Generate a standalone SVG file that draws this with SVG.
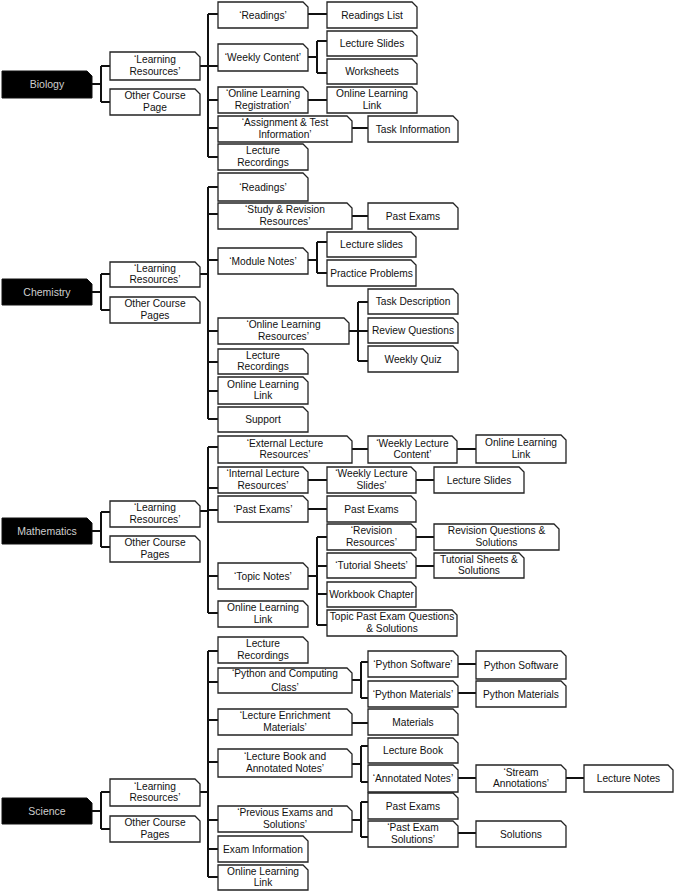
<svg xmlns="http://www.w3.org/2000/svg" width="676" height="893" viewBox="0 0 676 893">
<style>
.n{fill:#fff;stroke:#222;stroke-width:1.3;stroke-linejoin:miter}
.r{fill:#000;stroke:#111;stroke-width:1}
.t{font-family:"Liberation Sans",Arial,sans-serif;font-size:10.2px;fill:#111;text-anchor:middle}
.rt{font-family:"Liberation Sans",Arial,sans-serif;font-size:10.5px;fill:#cfcfcf;text-anchor:middle}
.c{fill:none;stroke:#111;stroke-width:2}
</style>
<rect width="676" height="893" fill="#fff"/>
<g id="connectors" class="c">
<path d="M92,84H101M101,66V102M101,66H110M101,102H110M200,66H218M208,14V157M208,14H218M208,100H218M208,128H218M208,157H218M308,14H327M308,57H317M317,41V73M317,41H327M317,73H327M308,100H327M352,128H368"/>
<path d="M92,292H101M101,274V310M101,274H110M101,310H110M200,274H208M208,187V419M208,187H218M208,214H218M208,260H218M208,331H218M208,362H218M208,391H218M208,419H218M352,216H368M308,260H317M317,242V273M317,242H327M317,273H327M349,331H358M358,302V361M358,302H368M358,331H368M358,361H368"/>
<path d="M92,531H101M101,512V547M101,512H110M101,547H110M200,511H208M208,447V613M208,447H218M208,488H218M208,510H218M208,576H218M208,613H218M352,449H368M457,449H476M308,480H327M416,480H434M308,509H327M308,576H317M317,537V625M317,537H327M317,566H327M317,594H327M317,625H327M416,537H434M416,566H434"/>
<path d="M92,811H101M101,792V829M101,792H110M101,829H110M200,792H208M208,651V877M208,651H218M208,682H218M208,720H218M208,762H218M208,820H218M208,849H218M208,877H218M352,680H361M361,662V698M361,662H368M361,698H368M458,664H476M458,693H476M352,723H368M352,764H361M361,746V782M361,746H368M361,782H368M458,778H476M566,778H584M352,820H361M361,802V837M361,802H368M361,837H368M458,833H476"/>
</g>

<g id="bio-root"><path class="r" d="M2,71H87L92,76V98H2Z"/><text class="rt" x="47" y="88">Biology</text></g>
<g id="bio-lr"><path class="n" d="M110,52H195L200,57V80H110Z"/><text class="t" x="155" y="63.4">‘Learning</text><text class="t" x="155" y="74.9">Resources’</text></g>
<g id="bio-ocp"><path class="n" d="M110,89H195L200,94V115H110Z"/><text class="t" x="155" y="99.4">Other Course</text><text class="t" x="155" y="110.9">Page</text></g>
<g id="bio-readings"><path class="n" d="M218,2H303L308,7V28H218Z"/><text class="t" x="263" y="18.6">‘Readings’</text></g>
<g id="bio-weekly"><path class="n" d="M218,44H303L308,49V71H218Z"/><text class="t" x="263" y="61.1">‘Weekly Content’</text></g>
<g id="bio-olr"><path class="n" d="M218,87H303L308,92V113H218Z"/><text class="t" x="263" y="97.4">‘Online Learning</text><text class="t" x="263" y="108.9">Registration’</text></g>
<g id="bio-assign"><path class="n" d="M218,116H347L352,121V142H218Z"/><text class="t" x="285" y="126.4">‘Assignment &amp; Test</text><text class="t" x="285" y="137.9">Information’</text></g>
<g id="bio-lrec"><path class="n" d="M218,144H303L308,149V170H218Z"/><text class="t" x="263" y="154.4">Lecture</text><text class="t" x="263" y="165.9">Recordings</text></g>
<g id="bio-rlist"><path class="n" d="M327,2H412L417,7V28H327Z"/><text class="t" x="372" y="18.6">Readings List</text></g>
<g id="bio-lslides"><path class="n" d="M327,31H412L417,36V56H327Z"/><text class="t" x="372" y="47.1">Lecture Slides</text></g>
<g id="bio-worksheets"><path class="n" d="M327,59H412L417,64V84H327Z"/><text class="t" x="372" y="75.1">Worksheets</text></g>
<g id="bio-oll"><path class="n" d="M327,87H412L417,92V113H327Z"/><text class="t" x="372" y="97.4">Online Learning</text><text class="t" x="372" y="108.9">Link</text></g>
<g id="bio-task"><path class="n" d="M368,116H453L458,121V142H368Z"/><text class="t" x="413" y="132.6">Task Information</text></g>

<g id="chem-root"><path class="r" d="M2,279H87L92,284V305H2Z"/><text class="rt" x="47" y="295.6">Chemistry</text></g>
<g id="chem-lr"><path class="n" d="M110,262H195L200,267V287H110Z"/><text class="t" x="155" y="271.9">‘Learning</text><text class="t" x="155" y="283.4">Resources’</text></g>
<g id="chem-ocp"><path class="n" d="M110,297H195L200,302V323H110Z"/><text class="t" x="155" y="307.4">Other Course</text><text class="t" x="155" y="318.9">Pages</text></g>
<g id="chem-readings"><path class="n" d="M218,173H303L308,178V201H218Z"/><text class="t" x="263" y="190.6">‘Readings’</text></g>
<g id="chem-study"><path class="n" d="M218,203H347L352,208V229H218Z"/><text class="t" x="285" y="213.4">‘Study &amp; Revision</text><text class="t" x="285" y="224.9">Resources’</text></g>
<g id="chem-module"><path class="n" d="M218,248H303L308,253V274H218Z"/><text class="t" x="263" y="264.6">‘Module Notes’</text></g>
<g id="chem-olres"><path class="n" d="M218,318H344L349,323V344H218Z"/><text class="t" x="283.5" y="328.4">‘Online Learning</text><text class="t" x="283.5" y="339.9">Resources’</text></g>
<g id="chem-lrec"><path class="n" d="M218,349H303L308,354V374H218Z"/><text class="t" x="263" y="358.9">Lecture</text><text class="t" x="263" y="370.4">Recordings</text></g>
<g id="chem-oll"><path class="n" d="M218,377H303L308,382V404H218Z"/><text class="t" x="263" y="387.9">Online Learning</text><text class="t" x="263" y="399.4">Link</text></g>
<g id="chem-support"><path class="n" d="M218,407H303L308,412V432H218Z"/><text class="t" x="263" y="423.1">Support</text></g>
<g id="chem-pastexams"><path class="n" d="M368,203H453L458,208V229H368Z"/><text class="t" x="413" y="219.6">Past Exams</text></g>
<g id="chem-lslides"><path class="n" d="M327,232H411L416,237V257H327Z"/><text class="t" x="371.5" y="248.1">Lecture slides</text></g>
<g id="chem-practice"><path class="n" d="M327,260H411L416,265V286H327Z"/><text class="t" x="371.5" y="276.6">Practice Problems</text></g>
<g id="chem-taskdesc"><path class="n" d="M368,289H453L458,294V314H368Z"/><text class="t" x="413" y="305.1">Task Description</text></g>
<g id="chem-review"><path class="n" d="M368,318H453L458,323V343H368Z"/><text class="t" x="413" y="334.1">Review Questions</text></g>
<g id="chem-quiz"><path class="n" d="M368,346H453L458,351V372H368Z"/><text class="t" x="413" y="362.6">Weekly Quiz</text></g>

<g id="math-root"><path class="r" d="M2,518H87L92,523V544H2Z"/><text class="rt" x="47" y="534.6">Mathematics</text></g>
<g id="math-lr"><path class="n" d="M110,501H195L200,506V527H110Z"/><text class="t" x="155" y="511.4">‘Learning</text><text class="t" x="155" y="522.9">Resources’</text></g>
<g id="math-ocp"><path class="n" d="M110,536H195L200,541V562H110Z"/><text class="t" x="155" y="546.4">Other Course</text><text class="t" x="155" y="557.9">Pages</text></g>
<g id="math-ext"><path class="n" d="M218,436H347L352,441V463H218Z"/><text class="t" x="285" y="446.9">‘External Lecture</text><text class="t" x="285" y="458.4">Resources’</text></g>
<g id="math-int"><path class="n" d="M218,467H303L308,472V493H218Z"/><text class="t" x="263" y="477.4">‘Internal Lecture</text><text class="t" x="263" y="488.9">Resources’</text></g>
<g id="math-past"><path class="n" d="M218,496H303L308,501V522H218Z"/><text class="t" x="263" y="512.6">‘Past Exams’</text></g>
<g id="math-topic"><path class="n" d="M218,563H303L308,568V589H218Z"/><text class="t" x="263" y="579.6">‘Topic Notes’</text></g>
<g id="math-oll"><path class="n" d="M218,601H303L308,606V627H218Z"/><text class="t" x="263" y="611.4">Online Learning</text><text class="t" x="263" y="622.9">Link</text></g>
<g id="math-wlc"><path class="n" d="M368,436H452L457,441V463H368Z"/><text class="t" x="412.5" y="446.9">‘Weekly Lecture</text><text class="t" x="412.5" y="458.4">Content’</text></g>
<g id="math-oll2"><path class="n" d="M476,435H561L566,440V463H476Z"/><text class="t" x="521" y="446.4">Online Learning</text><text class="t" x="521" y="457.9">Link</text></g>
<g id="math-wls"><path class="n" d="M327,467H411L416,472V493H327Z"/><text class="t" x="371.5" y="477.4">‘Weekly Lecture</text><text class="t" x="371.5" y="488.9">Slides’</text></g>
<g id="math-ls"><path class="n" d="M434,467H519L524,472V493H434Z"/><text class="t" x="479" y="483.6">Lecture Slides</text></g>
<g id="math-pastexams"><path class="n" d="M327,496H411L416,501V522H327Z"/><text class="t" x="371.5" y="512.6">Past Exams</text></g>
<g id="math-revres"><path class="n" d="M327,524H411L416,529V550H327Z"/><text class="t" x="371.5" y="534.4">‘Revision</text><text class="t" x="371.5" y="545.9">Resources’</text></g>
<g id="math-revq"><path class="n" d="M434,524H554L559,529V550H434Z"/><text class="t" x="496.5" y="534.4">Revision Questions &amp;</text><text class="t" x="496.5" y="545.9">Solutions</text></g>
<g id="math-tut"><path class="n" d="M327,553H411L416,558V578H327Z"/><text class="t" x="371.5" y="569.1">‘Tutorial Sheets’</text></g>
<g id="math-tuts"><path class="n" d="M434,553H519L524,558V578H434Z"/><text class="t" x="479" y="562.9">Tutorial Sheets &amp;</text><text class="t" x="479" y="574.4">Solutions</text></g>
<g id="math-workbook"><path class="n" d="M327,582H411L416,587V607H327Z"/><text class="t" x="371.5" y="598.1">Workbook Chapter</text></g>
<g id="math-topicpast"><path class="n" d="M327,610H452L457,615V636H327Z"/><text class="t" x="392" y="620.4">Topic Past Exam Questions</text><text class="t" x="392" y="631.9">&amp; Solutions</text></g>

<g id="sci-root"><path class="r" d="M2,798H87L92,803V824H2Z"/><text class="rt" x="47" y="814.6">Science</text></g>
<g id="sci-lr"><path class="n" d="M110,779H195L200,784V806H110Z"/><text class="t" x="155" y="789.9">‘Learning</text><text class="t" x="155" y="801.4">Resources’</text></g>
<g id="sci-ocp"><path class="n" d="M110,816H195L200,821V842H110Z"/><text class="t" x="155" y="826.4">Other Course</text><text class="t" x="155" y="837.9">Pages</text></g>
<g id="sci-lrec"><path class="n" d="M218,637H303L308,642V663H218Z"/><text class="t" x="263" y="647.4">Lecture</text><text class="t" x="263" y="658.9">Recordings</text></g>
<g id="sci-python"><path class="n" d="M218,668H347L352,673V693H218Z"/><text class="t" x="285" y="677">‘Python and Computing</text><text class="t" x="285" y="691">Class’</text></g>
<g id="sci-enrich"><path class="n" d="M218,709H347L352,714V735H218Z"/><text class="t" x="285" y="719.4">‘Lecture Enrichment</text><text class="t" x="285" y="730.9">Materials’</text></g>
<g id="sci-book"><path class="n" d="M218,749H347L352,754V777H218Z"/><text class="t" x="285" y="760.4">‘Lecture Book and</text><text class="t" x="285" y="771.9">Annotated Notes’</text></g>
<g id="sci-prev"><path class="n" d="M218,806H347L352,811V832H218Z"/><text class="t" x="285" y="816.4">‘Previous Exams and</text><text class="t" x="285" y="827.9">Solutions’</text></g>
<g id="sci-examinfo"><path class="n" d="M218,836H303L308,841V862H218Z"/><text class="t" x="263" y="852.6">Exam Information</text></g>
<g id="sci-oll"><path class="n" d="M218,865H303L308,870V890H218Z"/><text class="t" x="263" y="874.9">Online Learning</text><text class="t" x="263" y="886.4">Link</text></g>
<g id="sci-pysw"><path class="n" d="M368,651H453L458,656V677H368Z"/><text class="t" x="413" y="667.6">‘Python Software’</text></g>
<g id="sci-pymat"><path class="n" d="M368,681H453L458,686V707H368Z"/><text class="t" x="413" y="697.6">‘Python Materials’</text></g>
<g id="sci-materials"><path class="n" d="M368,709H453L458,714V735H368Z"/><text class="t" x="413" y="725.6">Materials</text></g>
<g id="sci-lbook"><path class="n" d="M368,738H453L458,743V763H368Z"/><text class="t" x="413" y="754.1">Lecture Book</text></g>
<g id="sci-annot"><path class="n" d="M368,765H453L458,770V792H368Z"/><text class="t" x="413" y="782.1">‘Annotated Notes’</text></g>
<g id="sci-pastexams"><path class="n" d="M368,793H453L458,798V819H368Z"/><text class="t" x="413" y="809.6">Past Exams</text></g>
<g id="sci-pes"><path class="n" d="M368,821H453L458,826V847H368Z"/><text class="t" x="413" y="831.4">‘Past Exam</text><text class="t" x="413" y="842.9">Solutions’</text></g>
<g id="sci-pysw2"><path class="n" d="M476,651H561L566,656V679H476Z"/><text class="t" x="521" y="668.6">Python Software</text></g>
<g id="sci-pymat2"><path class="n" d="M476,681H561L566,686V707H476Z"/><text class="t" x="521" y="697.6">Python Materials</text></g>
<g id="sci-stream"><path class="n" d="M476,765H561L566,770V792H476Z"/><text class="t" x="521" y="775.9">‘Stream</text><text class="t" x="521" y="787.4">Annotations’</text></g>
<g id="sci-lnotes"><path class="n" d="M584,765H668L673,770V792H584Z"/><text class="t" x="628.5" y="782.1">Lecture Notes</text></g>
<g id="sci-sol"><path class="n" d="M476,821H561L566,826V847H476Z"/><text class="t" x="521" y="837.6">Solutions</text></g>
</svg>
